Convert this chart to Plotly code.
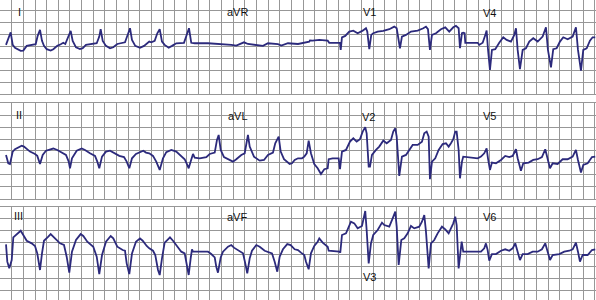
import plotly.graph_objects as go

# ---------------- data (time in s, amplitude in mV) ----------------
lead_labels = [["I", "aVR", "V1", "V4"],
               ["II", "aVL", "V2", "V5"],
               ["III", "aVF", "V3", "V6"]]

row1_t = [0.103, 0.183, 0.218, 0.257, 0.355, 0.399, 0.458, 0.571, 0.612, 0.646, 0.686, 0.720, 0.754, 0.801,
          0.869, 0.914, 0.982, 1.041, 1.085, 1.119, 1.178, 1.212, 1.246, 1.303, 1.371, 1.418, 1.474, 1.572,
          1.658, 1.702, 1.726, 1.761, 1.817, 1.886, 1.942, 2.011, 2.143, 2.199, 2.229, 2.263, 2.319, 2.400,
          2.469, 2.559, 2.594, 2.652, 2.697, 2.738, 2.777, 2.823, 2.892, 2.949, 3.022, 3.154, 3.194, 3.240,
          3.279, 3.338, 3.566, 3.771, 3.965, 4.051, 4.166, 4.183, 4.251, 4.423, 4.509, 4.594, 4.766, 4.822,
          4.937, 5.109, 5.246, 5.302, 5.314, 5.360, 5.474, 5.618, 5.645, 5.829, 5.841, 5.863, 5.919, 5.988,
          6.057, 6.132, 6.218, 6.274, 6.297, 6.331, 6.365, 6.399, 6.475, 6.571, 6.674, 6.759, 6.801, 6.857,
          6.891, 6.960, 7.046, 7.161, 7.257, 7.303, 7.337, 7.371, 7.406, 7.474, 7.560, 7.634, 7.702, 7.771,
          7.817, 7.863, 7.886, 7.920, 7.942, 7.966, 7.977, 8.189, 8.217, 8.275, 8.320, 8.343, 8.366, 8.400,
          8.434, 8.491, 8.559, 8.628, 8.686, 8.760, 8.817, 8.846, 8.875, 8.914, 8.961, 9.017, 9.074, 9.142,
          9.218, 9.303, 9.360, 9.394, 9.446, 9.485, 9.543, 9.600, 9.657, 9.732, 9.818, 9.874, 9.909, 9.960,
          10.000, 10.058, 10.114, 10.160, 10.205]
row1_mv = [0.07, 0.60, 0.07, -0.05, -0.18, -0.17, 0.03, 0.07, 0.10, 0.45, 0.70, 0.24, 0.03, -0.11,
           -0.17, -0.11, 0.03, 0.10, 0.16, 0.11, 0.45, 0.66, 0.24, -0.03, -0.10, -0.07, 0.07, 0.11,
           0.14, 0.42, 0.73, 0.24, 0.03, -0.07, -0.03, 0.11, 0.18, 0.56, 0.77, 0.28, 0.03, -0.05,
           0.03, 0.21, 0.18, 0.24, 0.56, 0.73, 0.21, 0.07, -0.05, 0.03, 0.14, 0.16, 0.42, 0.77,
           0.16, 0.14, 0.14, 0.12, 0.07, 0.04, 0.14, 0.18, 0.11, 0.07, 0.03, 0.14, 0.10, 0.04,
           0.14, 0.11, 0.16, 0.21, 0.26, 0.25, 0.28, 0.25, 0.16, 0.16, -0.14, 0.39, 0.45, 0.63,
           0.67, 0.56, 0.67, 0.77, 0.63, -0.11, 0.49, 0.56, 0.63, 0.66, 0.73, 0.84, 0.77, -0.07,
           0.42, 0.49, 0.63, 0.67, 0.77, 0.84, 0.73, -0.14, 0.49, 0.56, 0.73, 0.81, 0.63, 0.81,
           0.87, 0.77, -0.07, 0.56, 0.58, 0.56, 0.16, 0.16, 0.07, 0.16, 0.49, 0.67, -0.11, -0.98,
           -0.14, -0.11, 0.16, 0.39, 0.28, 0.21, 0.49, 0.77, -0.14, -0.95, -0.14, -0.07, 0.21, 0.35,
           0.21, 0.42, 0.81, -0.14, -0.87, -0.11, -0.07, 0.21, 0.39, 0.31, 0.42, 0.81, -0.14, -1.01,
           -0.14, -0.07, 0.25, 0.39, 0.39]

row2_t = [0.103, 0.142, 0.171, 0.218, 0.257, 0.314, 0.372, 0.411, 0.458, 0.514, 0.600, 0.639, 0.686, 0.732,
          0.789, 0.857, 0.914, 0.982, 1.058, 1.131, 1.178, 1.200, 1.234, 1.315, 1.401, 1.457, 1.543, 1.629,
          1.668, 1.702, 1.749, 1.817, 1.886, 1.971, 2.045, 2.126, 2.172, 2.217, 2.263, 2.331, 2.400, 2.457,
          2.503, 2.559, 2.623, 2.679, 2.738, 2.794, 2.851, 2.937, 3.022, 3.108, 3.166, 3.211, 3.235, 3.269,
          3.309, 3.338, 3.423, 3.537, 3.595, 3.681, 3.720, 3.749, 3.784, 3.840, 3.938, 3.994, 4.051, 4.137,
          4.195, 4.229, 4.251, 4.281, 4.354, 4.452, 4.526, 4.594, 4.680, 4.719, 4.778, 4.812, 4.869, 4.966,
          5.006, 5.052, 5.109, 5.177, 5.217, 5.258, 5.292, 5.331, 5.388, 5.446, 5.503, 5.560, 5.618, 5.635,
          5.703, 5.806, 5.829, 5.863, 5.932, 6.000, 6.057, 6.115, 6.171, 6.218, 6.262, 6.286, 6.321, 6.343,
          6.377, 6.446, 6.502, 6.571, 6.629, 6.703, 6.742, 6.777, 6.801, 6.845, 6.891, 6.960, 7.017, 7.075,
          7.161, 7.234, 7.274, 7.315, 7.349, 7.371, 7.406, 7.462, 7.520, 7.589, 7.646, 7.692, 7.731, 7.771,
          7.805, 7.829, 7.863, 7.886, 7.920, 7.942, 8.189, 8.246, 8.302, 8.343, 8.366, 8.400, 8.434, 8.503,
          8.589, 8.662, 8.731, 8.789, 8.846, 8.875, 8.931, 8.971, 9.063, 9.142, 9.218, 9.291, 9.348, 9.389,
          9.429, 9.475, 9.560, 9.646, 9.732, 9.818, 9.874, 9.909, 9.960, 10.000, 10.075, 10.149, 10.205]
row2_mv = [-0.17, -0.52, -0.55, -0.03, 0.07, 0.14, 0.22, 0.18, 0.07, -0.03, -0.13, -0.21, -0.55, -0.17,
           0.01, 0.07, 0.10, 0.04, -0.07, -0.17, -0.45, -0.73, -0.31, 0.01, 0.10, 0.04, -0.10, -0.21,
           -0.45, -0.73, -0.24, -0.03, 0.01, -0.10, -0.21, -0.26, -0.45, -0.73, -0.31, -0.13, -0.07, 0.01,
           -0.07, -0.10, -0.21, -0.45, -0.80, -0.31, -0.05, 0.04, -0.03, -0.24, -0.35, -0.59, -0.73, -0.45,
           -0.13, -0.28, -0.31, -0.26, -0.13, -0.07, 0.46, 0.67, 0.04, -0.26, -0.38, -0.45, -0.35, -0.17,
           -0.10, 0.35, 0.67, 0.18, -0.24, -0.41, -0.38, -0.17, -0.07, 0.32, 0.60, -0.03, -0.35, -0.55,
           -0.52, -0.38, -0.31, -0.31, -0.24, -0.10, 0.43, -0.10, -0.55, -0.73, -0.97, -0.77, -0.73, -0.35,
           -0.31, -0.31, -0.77, -0.03, 0.04, 0.39, 0.53, 0.39, 0.49, 0.81, 1.00, 0.74, -0.66, -0.66,
           -0.17, 0.04, 0.18, 0.43, 0.32, 0.46, 0.81, 0.95, 0.60, -1.05, -0.24, -0.17, 0.04, 0.25,
           0.25, 0.39, 0.74, 0.81, 0.60, -1.19, -0.45, -0.31, 0.04, 0.29, 0.32, 0.18, 0.32, 0.49,
           0.81, 0.81, 0.04, -1.15, -0.45, -0.24, -0.31, -0.24, -0.10, 0.11, -0.31, -0.80, -0.49, -0.52,
           -0.38, -0.21, -0.26, -0.21, 0.07, -0.31, -0.83, -0.52, -0.49, -0.38, -0.35, -0.26, 0.07, -0.31,
           -0.73, -0.52, -0.55, -0.35, -0.35, -0.24, 0.04, -0.38, -0.91, -0.59, -0.52, -0.26, -0.24]

row3_t = [0.103, 0.125, 0.159, 0.201, 0.228, 0.274, 0.314, 0.355, 0.399, 0.458, 0.543, 0.600, 0.639, 0.686,
          0.720, 0.754, 0.828, 0.869, 0.943, 1.029, 1.097, 1.143, 1.188, 1.234, 1.303, 1.383, 1.428, 1.497,
          1.599, 1.658, 1.702, 1.749, 1.817, 1.898, 1.942, 2.011, 2.103, 2.143, 2.172, 2.217, 2.263, 2.331,
          2.400, 2.446, 2.515, 2.559, 2.623, 2.662, 2.709, 2.738, 2.777, 2.823, 2.868, 2.914, 2.966, 3.039,
          3.108, 3.166, 3.194, 3.235, 3.269, 3.291, 3.309, 3.566, 3.622, 3.681, 3.708, 3.737, 3.784, 3.823,
          3.909, 3.965, 4.011, 4.109, 4.166, 4.205, 4.239, 4.281, 4.320, 4.394, 4.452, 4.538, 4.663, 4.709,
          4.754, 4.795, 4.851, 4.925, 4.983, 5.052, 5.109, 5.160, 5.217, 5.246, 5.292, 5.331, 5.388, 5.446,
          5.474, 5.532, 5.589, 5.618, 5.635, 5.817, 5.834, 5.863, 5.932, 5.978, 6.017, 6.074, 6.132, 6.206,
          6.245, 6.262, 6.286, 6.321, 6.360, 6.399, 6.475, 6.549, 6.588, 6.674, 6.732, 6.777, 6.801, 6.835,
          6.880, 6.931, 6.989, 7.046, 7.102, 7.188, 7.234, 7.274, 7.303, 7.349, 7.389, 7.445, 7.503, 7.577,
          7.634, 7.692, 7.731, 7.771, 7.805, 7.829, 7.863, 7.886, 7.915, 7.942, 8.189, 8.246, 8.302, 8.331,
          8.360, 8.388, 8.434, 8.503, 8.589, 8.662, 8.731, 8.789, 8.834, 8.875, 8.914, 8.961, 9.046, 9.132,
          9.218, 9.291, 9.348, 9.389, 9.429, 9.475, 9.588, 9.674, 9.760, 9.818, 9.874, 9.909, 9.943, 9.989,
          10.075, 10.149, 10.205]
row3_mv = [0.42, -0.31, -0.59, -0.24, 0.71, 0.81, 0.88, 0.99, 0.81, 0.57, 0.46, 0.35, 0.04, -0.66,
           0.04, 0.57, 0.74, 0.85, 0.67, 0.46, 0.39, -0.10, -0.77, 0.11, 0.60, 0.85, 0.77, 0.53,
           0.32, -0.10, -0.83, -0.03, 0.53, 0.77, 0.67, 0.32, 0.18, 0.15, -0.38, -0.83, 0.04, 0.53,
           0.67, 0.57, 0.35, 0.25, 0.15, -0.03, -0.66, -0.87, -0.17, 0.49, 0.60, 0.71, 0.57, 0.32,
           0.11, 0.04, -0.31, -0.87, -0.17, 0.21, 0.11, 0.11, 0.01, -0.13, -0.52, -0.77, -0.13, 0.11,
           0.32, 0.39, 0.28, 0.11, 0.04, -0.38, -0.80, -0.17, 0.15, 0.39, 0.32, 0.15, 0.04, -0.31,
           -0.73, -0.10, 0.21, 0.43, 0.39, 0.21, 0.18, 0.07, -0.03, -0.31, -0.63, 0.04, 0.35, 0.53,
           0.67, 0.49, 0.35, 0.32, 0.15, 0.11, 0.07, 0.81, 0.88, 1.16, 1.37, 1.30, 1.09, 1.19,
           1.65, 1.82, 1.02, -0.38, 0.46, 0.81, 1.02, 1.33, 1.23, 1.16, 1.51, 1.79, 1.16, -0.45,
           0.60, 0.67, 0.88, 1.19, 1.09, 1.16, 1.37, 1.65, 0.95, -0.59, 0.46, 0.60, 0.88, 1.16,
           1.05, 0.88, 1.09, 1.30, 1.58, 1.23, -0.59, 0.04, 0.53, 0.11, 0.11, 0.11, 0.25, 0.46,
           0.18, -0.27, 0.01, 0.01, 0.15, 0.21, 0.15, 0.25, 0.46, 0.15, -0.24, 0.01, 0.01, 0.11,
           0.11, 0.21, 0.46, 0.11, -0.24, -0.03, 0.01, 0.11, 0.15, 0.21, 0.49, 0.11, -0.31, -0.03,
           -0.03, 0.18, 0.21]

rows_t = [row1_t, row2_t, row3_t]
rows_mv = [row1_mv, row2_mv, row3_mv]

# ---------------- styling / layout ----------------
W, H = 596, 300
GRID = "#979797"
TRACE = "#2c2a7c"
x_range = [0, 10.218]
y_ranges = [[-2.0, 1.957], [-2.0, 2.0], [-1.92, 2.0]]
y_domains = [[0.686, 1.0], [0.3383, 0.6557], [0.0, 0.311]]

fig = go.Figure()
for i in range(3):
    sfx = "" if i == 0 else str(i + 1)
    fig.add_trace(go.Scatter(x=rows_t[i], y=rows_mv[i], mode="lines",
                             line=dict(color=TRACE, width=1.8),
                             xaxis="x" + sfx, yaxis="y" + sfx,
                             hoverinfo="skip", showlegend=False))
    fig.layout["xaxis" + sfx] = dict(domain=[0, 1], range=x_range, anchor="y" + sfx,
                                     tick0=0, dtick=0.2, showgrid=True, gridcolor=GRID,
                                     gridwidth=1, showticklabels=False, ticks="",
                                     zeroline=False, showline=True, mirror=True,
                                     linecolor=GRID, linewidth=1, fixedrange=True)
    fig.layout["yaxis" + sfx] = dict(domain=y_domains[i], range=y_ranges[i], anchor="x" + sfx,
                                     tick0=0, dtick=0.5, showgrid=True, gridcolor=GRID,
                                     gridwidth=1, showticklabels=False, ticks="",
                                     zeroline=False, showline=True, mirror=True,
                                     linecolor=GRID, linewidth=1, fixedrange=True)

# lead label positions (pixel centres in the 596x300 page)
label_px = [[(19, 11.7), (237, 12), (369, 12.5), (489, 12.8)],
            [(19, 115), (237.5, 115.5), (368, 117), (489, 116)],
            [(18, 216), (237, 217), (369.5, 277), (489.5, 217)]]
for r in range(3):
    for c in range(4):
        px, py = label_px[r][c]
        fig.add_annotation(x=px / W, y=1 - py / H, xref="paper", yref="paper",
                           text=lead_labels[r][c], showarrow=False,
                           xanchor="center", yanchor="middle",
                           font=dict(family="Liberation Sans, Arial, sans-serif", size=11, color="#111"))

fig.update_layout(width=W, height=H, margin=dict(l=0, r=0, t=0, b=0),
                  paper_bgcolor="white", plot_bgcolor="white", showlegend=False)

fig.write_html("out.html", config={"displayModeBar": False})
